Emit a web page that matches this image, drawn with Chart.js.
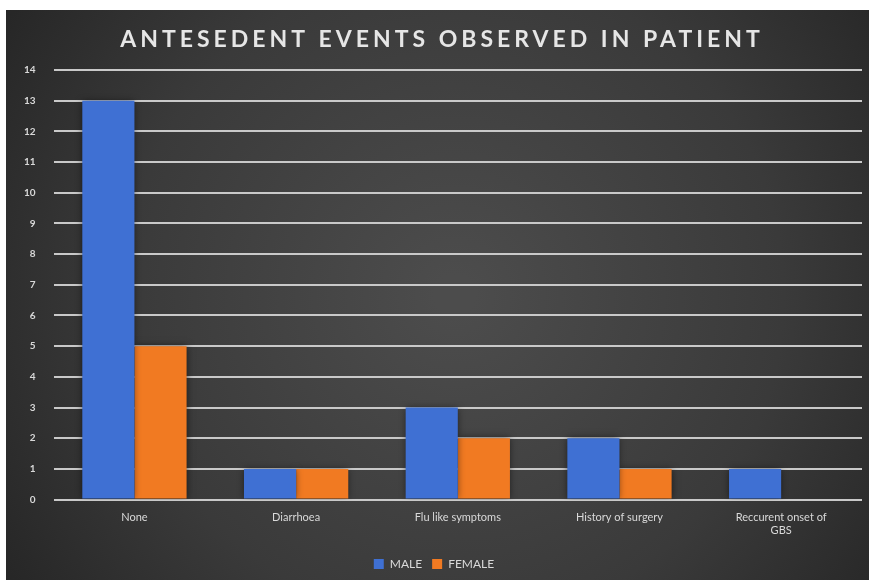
<!doctype html>
<html>
<head>
    <title>Antesedent events</title>
    <script src="https://cdn.jsdelivr.net/npm/chart.js@4.4.1/dist/chart.umd.min.js"></script>
    <style>
        body {
            margin: 0;
            background: #fff;
        }

        .chart-box {
            position: absolute;
            left: 6px;
            top: 10px;
            width: 863px;
            height: 570px;
        }
    </style>
</head>
<body>
    <div class="chart-box">
        <canvas id="canvas"></canvas>
    </div>
    <script>
        const titleText = 'ANTESEDENT EVENTS OBSERVED IN PATIENT';
        const events = ['None', 'Diarrhoea', 'Flu like symptoms', 'History of surgery', ['Reccurent onset of', 'GBS']];
        const male = [13, 1, 3, 2, 1];
        const female = [5, 1, 2, 1, 0];

        const textColor = '#d9d9d9';
        const fontFamily = 'Lato, "Open Sans", sans-serif';

        // dark panel with a lighter middle
        const panelBg = {
            id: 'panelBg',
            beforeDraw(chart) {
                const ctx = chart.ctx;
                const w = chart.width, h = chart.height;
                const g = ctx.createRadialGradient(w * 0.52, h * 0.5, 20, w * 0.52, h * 0.5, w * 0.62);
                g.addColorStop(0, '#4c4c4c');
                g.addColorStop(0.6, '#3a3a3a');
                g.addColorStop(1, '#262626');
                ctx.save();
                ctx.fillStyle = g;
                ctx.fillRect(0, 0, w, h);
                ctx.restore();
            }
        };

        // soft dark shadow around the bars
        const barShadow = {
            id: 'barShadow',
            beforeDatasetsDraw(chart) {
                const ctx = chart.ctx;
                ctx.save();
                ctx.shadowColor = 'rgba(0, 0, 0, 0.55)';
                ctx.shadowBlur = 7;
                ctx.shadowOffsetX = 0;
                ctx.shadowOffsetY = 0;
            },
            afterDatasetsDraw(chart) {
                chart.ctx.restore();
            }
        };

        // spaced-out heading across the top
        const heading = {
            id: 'heading',
            afterDraw(chart) {
                const ctx = chart.ctx;
                ctx.save();
                ctx.letterSpacing = '4px';
                ctx.font = 'bold 23px ' + fontFamily;
                ctx.fillStyle = '#e6e6e6';
                ctx.textAlign = 'center';
                ctx.textBaseline = 'middle';
                ctx.fillText(titleText, 436, 30);
                ctx.restore();
            }
        };

        const ctx = document.getElementById('canvas').getContext('2d');
        window.myBar = new Chart(ctx, {
            type: 'bar',
            data: {
                labels: events,
                datasets: [{
                    label: 'MALE',
                    backgroundColor: '#3f70d3',
                    data: male
                }, {
                    label: 'FEMALE',
                    backgroundColor: '#f17a22',
                    data: female
                }]
            },
            options: {
                responsive: true,
                maintainAspectRatio: false,
                animation: false,
                categoryPercentage: 0.645,
                barPercentage: 1,
                layout: {
                    padding: { top: 60, left: 0, right: 7, bottom: 0 }
                },
                plugins: {
                    legend: {
                        position: 'bottom',
                        labels: {
                            color: textColor,
                            boxWidth: 10,
                            boxHeight: 10,
                            padding: 10,
                            font: { family: fontFamily, size: 12 }
                        }
                    },
                    title: { display: false },
                    tooltip: { enabled: false }
                },
                scales: {
                    x: {
                        grid: { display: false },
                        border: { display: false },
                        // extra room between the category labels and the legend
                        afterFit(scale) {
                            scale.height += 8;
                        },
                        ticks: {
                            color: textColor,
                            padding: 3,
                            maxRotation: 0,
                            font: { family: fontFamily, size: 11 }
                        }
                    },
                    y: {
                        min: 0,
                        max: 14,
                        ticks: {
                            stepSize: 1,
                            color: textColor,
                            padding: 18,
                            font: { family: fontFamily, size: 10, weight: 'bold' }
                        },
                        grid: {
                            color: '#c9c9c9',
                            lineWidth: 2,
                            drawTicks: false
                        },
                        border: { display: false }
                    }
                }
            },
            plugins: [panelBg, barShadow, heading]
        });
    </script>
</body>
</html>
